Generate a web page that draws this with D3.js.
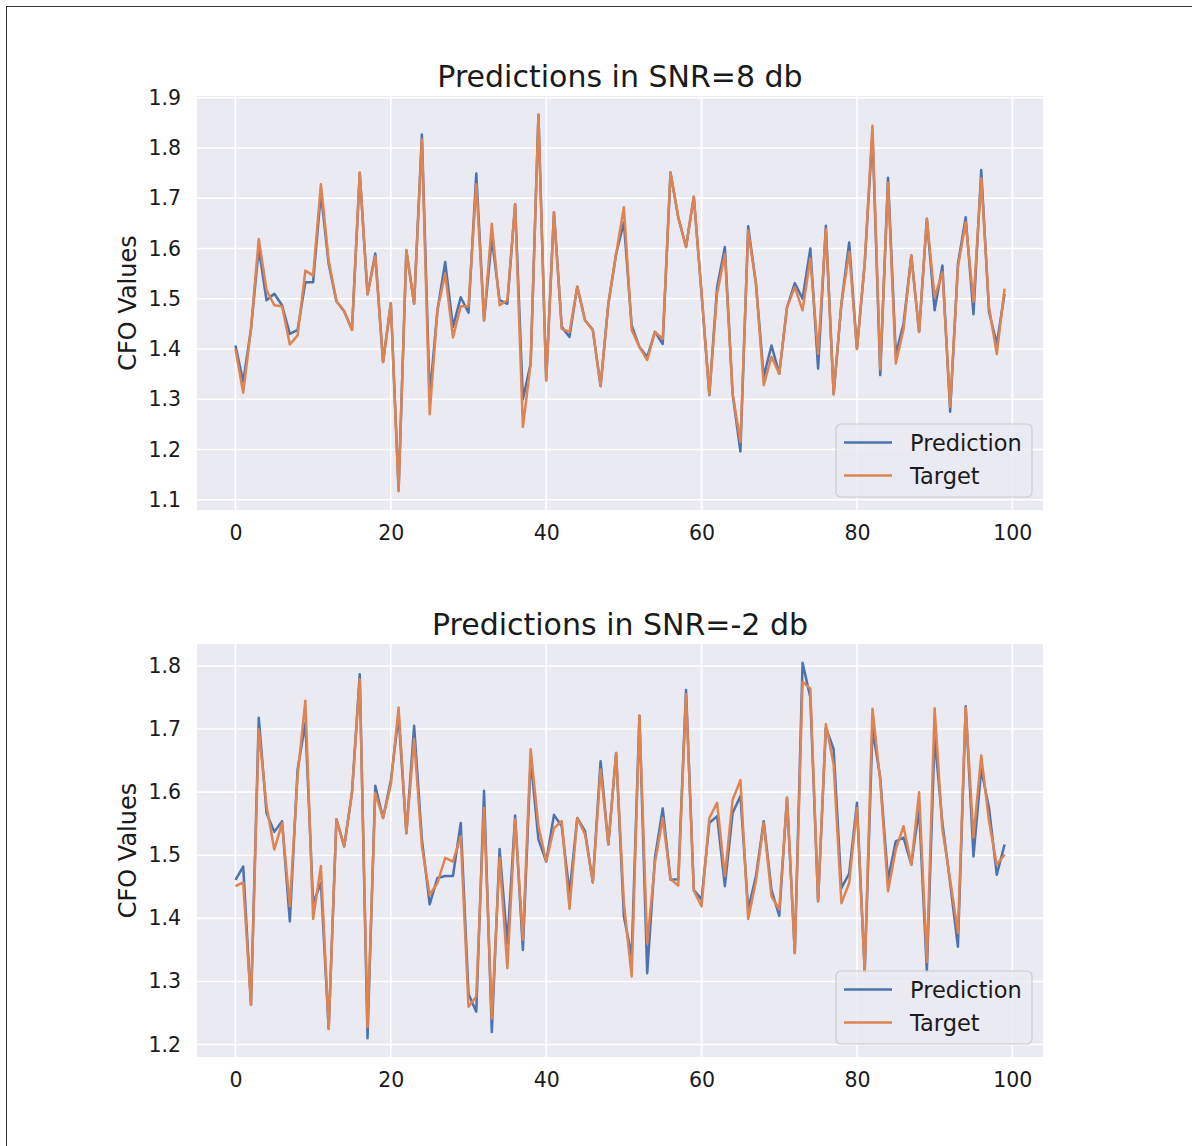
<!DOCTYPE html>
<html><head><meta charset="utf-8">
<script src="https://cdn.jsdelivr.net/npm/d3@7"></script>
<style>body{margin:0;background:#fff}svg{display:block;font-family:"DejaVu Sans",sans-serif}</style>
</head><body>
<svg id="c" width="1192" height="1146"></svg>
<script>
const seriesNames = ["Prediction", "Target"];
const titles = ["Predictions in SNR=8 db", "Predictions in SNR=-2 db"];
const xTicks = [0, 20, 40, 60, 80, 100];
const yTicksTop = [1.1, 1.2, 1.3, 1.4, 1.5, 1.6, 1.7, 1.8, 1.9];
const yTicksBottom = [1.2, 1.3, 1.4, 1.5, 1.6, 1.7, 1.8];

const predTop = [1.407,1.335,1.44,1.60,1.497,1.51,1.487,1.43,1.438,1.533,
1.533,1.71,1.569,1.495,1.475,1.438,1.75,1.509,1.59,1.374,
1.491,1.12,1.596,1.49,1.827,1.305,1.477,1.573,1.444,1.503,
1.472,1.749,1.457,1.62,1.497,1.49,1.688,1.30,1.371,1.866,
1.338,1.672,1.444,1.424,1.524,1.457,1.438,1.326,1.49,1.589,
1.652,1.447,1.404,1.384,1.434,1.41,1.751,1.662,1.603,1.703,
1.51,1.308,1.523,1.603,1.31,1.196,1.644,1.53,1.345,1.407,
1.351,1.483,1.531,1.50,1.60,1.361,1.645,1.31,1.49,1.612,
1.40,1.57,1.83,1.348,1.741,1.39,1.45,1.586,1.434,1.659,
1.477,1.566,1.275,1.569,1.662,1.469,1.756,1.474,1.41,1.51];
const targTop = [1.40,1.313,1.44,1.619,1.517,1.487,1.485,1.409,1.427,1.556,
1.546,1.728,1.576,1.495,1.475,1.438,1.751,1.509,1.584,1.374,
1.491,1.117,1.596,1.49,1.817,1.27,1.477,1.55,1.423,1.485,
1.485,1.728,1.457,1.649,1.487,1.497,1.688,1.245,1.371,1.866,
1.338,1.672,1.44,1.434,1.524,1.457,1.438,1.326,1.49,1.589,
1.682,1.438,1.404,1.378,1.434,1.42,1.751,1.662,1.603,1.703,
1.51,1.31,1.51,1.589,1.31,1.215,1.636,1.53,1.328,1.384,
1.351,1.483,1.523,1.477,1.58,1.39,1.639,1.31,1.49,1.593,
1.40,1.57,1.844,1.36,1.731,1.371,1.44,1.586,1.434,1.659,
1.503,1.553,1.285,1.563,1.652,1.494,1.74,1.483,1.39,1.52];
const predBottom = [1.461,1.482,1.263,1.718,1.567,1.537,1.554,1.395,1.636,1.71,
1.424,1.456,1.225,1.557,1.514,1.599,1.787,1.21,1.61,1.559,
1.618,1.721,1.535,1.705,1.525,1.422,1.464,1.467,1.467,1.551,
1.28,1.252,1.602,1.22,1.51,1.36,1.563,1.35,1.652,1.525,
1.49,1.564,1.546,1.44,1.559,1.538,1.457,1.649,1.517,1.662,
1.403,1.34,1.721,1.313,1.496,1.574,1.461,1.462,1.762,1.445,
1.43,1.551,1.562,1.451,1.567,1.594,1.414,1.467,1.554,1.445,
1.404,1.591,1.345,1.805,1.75,1.427,1.702,1.668,1.448,1.471,
1.583,1.316,1.70,1.623,1.461,1.522,1.528,1.485,1.573,1.316,
1.687,1.551,1.456,1.355,1.736,1.498,1.636,1.575,1.469,1.517];
const targBottom = [1.451,1.457,1.263,1.70,1.578,1.509,1.551,1.419,1.626,1.745,
1.399,1.483,1.225,1.557,1.514,1.599,1.779,1.228,1.599,1.559,
1.612,1.734,1.535,1.684,1.514,1.437,1.456,1.496,1.49,1.53,
1.26,1.276,1.575,1.241,1.496,1.321,1.557,1.366,1.668,1.546,
1.49,1.543,1.554,1.415,1.559,1.533,1.457,1.636,1.517,1.662,
1.424,1.308,1.721,1.36,1.488,1.559,1.462,1.452,1.755,1.444,
1.419,1.559,1.583,1.467,1.588,1.619,1.399,1.459,1.551,1.435,
1.414,1.591,1.345,1.775,1.764,1.427,1.708,1.644,1.424,1.456,
1.575,1.316,1.732,1.618,1.443,1.509,1.546,1.485,1.60,1.331,
1.733,1.541,1.461,1.377,1.734,1.528,1.658,1.554,1.485,1.501];

const colors = ["#4c72b0", "#dd8452"];
const svg = d3.select("#c");

// thin frame lines (top & left)
svg.append("line").attr("x1",6).attr("x2",1192).attr("y1",6.5).attr("y2",6.5).attr("stroke","#333").attr("stroke-width",1);
svg.append("line").attr("x1",6.5).attr("x2",6.5).attr("y1",6).attr("y2",1146).attr("stroke","#333").attr("stroke-width",1);

const panels = [
  {title: titles[0], pred: predTop, targ: targTop, yTicks: yTicksTop, top: 96, bottom: 510},
  {title: titles[1], pred: predBottom, targ: targBottom, yTicks: yTicksBottom, top: 644, bottom: 1057}
];
const left = 197, right = 1043;

panels.forEach(p => {
  const n = p.pred.length;
  const idx = d3.range(n);
  const x = d3.scaleLinear().domain([-(n-1)*0.05, (n-1)*1.05]).range([left, right]);
  const all = p.pred.concat(p.targ);
  const mn = d3.min(all), mx = d3.max(all), m = (mx - mn) * 0.05;
  const y = d3.scaleLinear().domain([mn - m, mx + m]).range([p.bottom, p.top]);
  const g = svg.append("g");
  g.append("rect").attr("x", left).attr("y", p.top).attr("width", right-left).attr("height", p.bottom-p.top).attr("fill", "#eaeaf2");
  // gridlines
  g.selectAll(".gx").data(xTicks).enter().append("line")
    .attr("x1", d => x(d)).attr("x2", d => x(d)).attr("y1", p.top).attr("y2", p.bottom)
    .attr("stroke", "#fff").attr("stroke-width", 1.6);
  g.selectAll(".gy").data(p.yTicks).enter().append("line")
    .attr("x1", left).attr("x2", right).attr("y1", d => y(d)).attr("y2", d => y(d))
    .attr("stroke", "#fff").attr("stroke-width", 1.6);
  // axes
  const xa = g.append("g").attr("transform", `translate(0,${p.bottom})`)
    .call(d3.axisBottom(x).tickValues(xTicks).tickSize(0).tickPadding(15).tickFormat(d3.format("d")));
  const ya = g.append("g").attr("transform", `translate(${left},0)`)
    .call(d3.axisLeft(y).tickValues(p.yTicks).tickSize(0).tickPadding(16).tickFormat(d3.format(".1f")));
  [xa, ya].forEach(a => {
    a.select(".domain").remove();
    a.selectAll("text").attr("font-size", 20.5).attr("fill", "#1a1a1a").attr("font-family", "DejaVu Sans");
  });
  // lines
  const line = d3.line().x((d,i) => x(idx[i])).y(d => y(d));
  [p.pred, p.targ].forEach((s, k) => {
    g.append("path").datum(s).attr("d", line).attr("fill", "none")
      .attr("stroke", colors[k]).attr("stroke-width", 2.5).attr("stroke-linejoin", "round");
  });
  // title
  g.append("text").attr("x", (left+right)/2).attr("y", p.top - 9).attr("text-anchor", "middle")
    .attr("font-size", 30).attr("fill", "#1a1a1a").text(p.title);
  // y label
  g.append("text").attr("transform", `translate(136,${(p.top+p.bottom)/2}) rotate(-90)`)
    .attr("text-anchor", "middle").attr("font-size", 24).attr("fill", "#1a1a1a").text("CFO Values");
  // legend
  const lx = 836, ly = p.bottom - 86, lw = 196, lh = 73;
  const lg = g.append("g");
  lg.append("rect").attr("x", lx).attr("y", ly).attr("width", lw).attr("height", lh).attr("rx", 5)
    .attr("fill", "#eaeaf2").attr("fill-opacity", 0.8).attr("stroke", "#cccccc").attr("stroke-width", 1.2);
  seriesNames.forEach((nm, k) => {
    const yy = ly + 18.5 + k * 33;
    lg.append("line").attr("x1", lx + 8).attr("x2", lx + 56).attr("y1", yy).attr("y2", yy)
      .attr("stroke", colors[k]).attr("stroke-width", 2.5);
    lg.append("text").attr("x", lx + 74).attr("y", yy).attr("dy", "0.36em")
      .attr("font-size", 22.5).attr("fill", "#1a1a1a").text(nm);
  });
});
</script>
</body></html>
